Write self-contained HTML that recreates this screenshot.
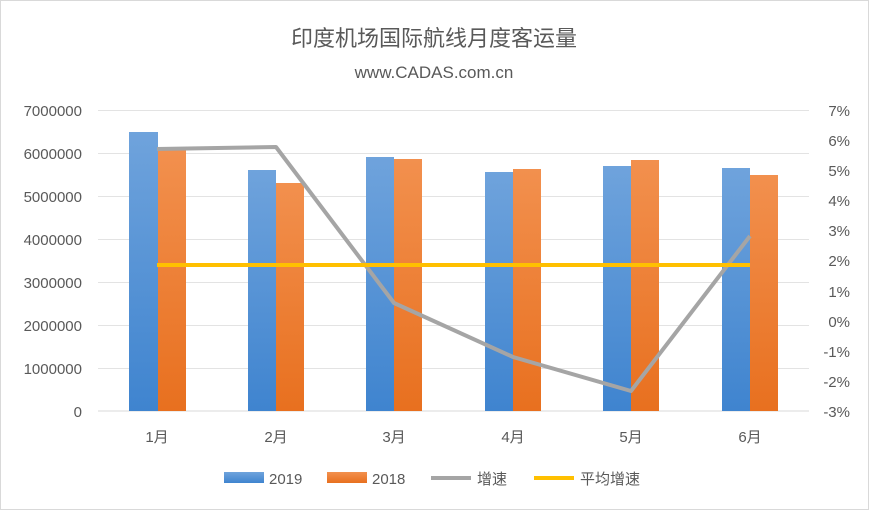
<!DOCTYPE html>
<html><head><meta charset="utf-8"><style>
body{margin:0;background:#fff;}
svg text{font-family:"Liberation Sans","Noto Sans CJK SC",sans-serif;fill:#595959;}
</style></head><body>
<svg width="869" height="510" xmlns="http://www.w3.org/2000/svg">
<defs>
<linearGradient id="b" x1="0" y1="0" x2="0" y2="1"><stop offset="0" stop-color="#6fa3dc"/><stop offset="1" stop-color="#3f84cf"/></linearGradient>
<linearGradient id="o" x1="0" y1="0" x2="0" y2="1"><stop offset="0" stop-color="#f2904e"/><stop offset="1" stop-color="#e8701f"/></linearGradient>
</defs>
<rect x="0.5" y="0.5" width="868" height="509" fill="#fff" stroke="#d9d9d9"/>
<text x="434" y="46" font-size="22" text-anchor="middle">印度机场国际航线月度客运量</text>
<text x="434" y="78" font-size="17" text-anchor="middle">www.CADAS.com.cn</text>
<g stroke="#e3e3e3" stroke-width="1">
<line x1="98" x2="809" y1="110.5" y2="110.5"/><line x1="98" x2="809" y1="153.5" y2="153.5"/><line x1="98" x2="809" y1="196.5" y2="196.5"/><line x1="98" x2="809" y1="239.5" y2="239.5"/><line x1="98" x2="809" y1="282.5" y2="282.5"/><line x1="98" x2="809" y1="325.5" y2="325.5"/><line x1="98" x2="809" y1="368.5" y2="368.5"/>
</g>
<line x1="98" x2="809" y1="411" y2="411" stroke="#d9d9d9"/>
<g font-size="15" text-anchor="end">
<text x="82" y="116">7000000</text><text x="82" y="159">6000000</text><text x="82" y="202">5000000</text><text x="82" y="245">4000000</text><text x="82" y="288">3000000</text><text x="82" y="331">2000000</text><text x="82" y="374">1000000</text><text x="82" y="417">0</text>
</g>
<g font-size="15" text-anchor="end">
<text x="850" y="116">7%</text><text x="850" y="146">6%</text><text x="850" y="176">5%</text><text x="850" y="206">4%</text><text x="850" y="236">3%</text><text x="850" y="266">2%</text><text x="850" y="297">1%</text><text x="850" y="327">0%</text><text x="850" y="357">-1%</text><text x="850" y="387">-2%</text><text x="850" y="417">-3%</text>
</g>
<g>
<rect x="129" y="132" width="29" height="279" fill="url(#b)"/><rect x="158" y="150" width="28" height="261" fill="url(#o)"/>
<rect x="248" y="170" width="28" height="241" fill="url(#b)"/><rect x="276" y="183" width="28" height="228" fill="url(#o)"/>
<rect x="366" y="157" width="28" height="254" fill="url(#b)"/><rect x="394" y="159" width="28" height="252" fill="url(#o)"/>
<rect x="485" y="172" width="28" height="239" fill="url(#b)"/><rect x="513" y="169" width="28" height="242" fill="url(#o)"/>
<rect x="603" y="166" width="28" height="245" fill="url(#b)"/><rect x="631" y="160" width="28" height="251" fill="url(#o)"/>
<rect x="722" y="168" width="28" height="243" fill="url(#b)"/><rect x="750" y="175" width="28" height="236" fill="url(#o)"/>
</g>
<polyline points="157,149 276,147 394,303 513,357 631,391 750,236" fill="none" stroke="#a5a5a5" stroke-width="4" stroke-linejoin="round"/>
<line x1="157" x2="750" y1="265" y2="265" stroke="#ffc000" stroke-width="4"/>
<g font-size="15" text-anchor="middle">
<text x="157" y="442">1月</text><text x="276" y="442">2月</text><text x="394" y="442">3月</text><text x="513" y="442">4月</text><text x="631" y="442">5月</text><text x="750" y="442">6月</text>
</g>
<g font-size="15">
<rect x="224" y="472" width="40" height="11" fill="url(#b)"/><text x="269" y="484">2019</text>
<rect x="327" y="472" width="40" height="11" fill="url(#o)"/><text x="372" y="484">2018</text>
<line x1="431" x2="471" y1="478" y2="478" stroke="#a5a5a5" stroke-width="4"/><text x="477" y="484">增速</text>
<line x1="534" x2="574" y1="478" y2="478" stroke="#ffc000" stroke-width="4"/><text x="580" y="484">平均增速</text>
</g>
</svg>
</body></html>
